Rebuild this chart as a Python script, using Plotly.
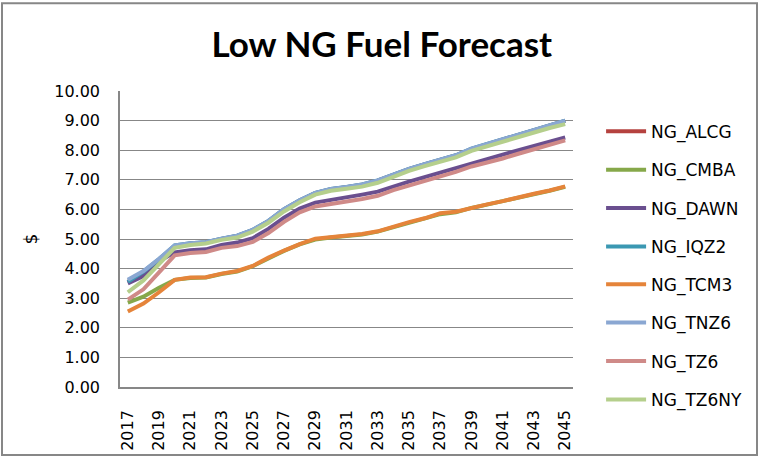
import plotly.graph_objects as go

years = list(range(2017, 2046))

ng_alcg = [3.55, 3.88, 4.30, 4.75, 4.85, 4.88, 5.00, 5.10, 5.30, 5.60, 6.00, 6.30, 6.55, 6.68, 6.75, 6.83, 6.97, 7.17, 7.36, 7.52, 7.68, 7.82, 8.04, 8.20, 8.36, 8.52, 8.67, 8.83, 8.99]
ng_cmba = [2.85, 3.05, 3.35, 3.62, 3.68, 3.70, 3.82, 3.90, 4.08, 4.35, 4.60, 4.82, 4.98, 5.05, 5.10, 5.15, 5.25, 5.40, 5.55, 5.68, 5.84, 5.90, 6.05, 6.16, 6.27, 6.40, 6.52, 6.63, 6.76]
ng_dawn = [3.50, 3.75, 4.25, 4.55, 4.62, 4.65, 4.80, 4.88, 5.03, 5.34, 5.72, 6.03, 6.23, 6.31, 6.40, 6.50, 6.60, 6.78, 6.94, 7.09, 7.25, 7.40, 7.57, 7.70, 7.85, 8.00, 8.16, 8.30, 8.43]
ng_iqz2 = [3.55, 3.90, 4.32, 4.78, 4.86, 4.89, 5.01, 5.11, 5.31, 5.61, 6.01, 6.31, 6.56, 6.69, 6.76, 6.84, 6.98, 7.18, 7.37, 7.53, 7.69, 7.83, 8.05, 8.21, 8.37, 8.53, 8.68, 8.84, 9.00]
ng_tcm3 = [2.55, 2.82, 3.20, 3.62, 3.70, 3.71, 3.83, 3.92, 4.09, 4.37, 4.61, 4.83, 5.01, 5.06, 5.11, 5.17, 5.26, 5.42, 5.57, 5.70, 5.87, 5.92, 6.06, 6.17, 6.28, 6.42, 6.53, 6.64, 6.78]
ng_tnz6 = [3.62, 3.92, 4.33, 4.78, 4.86, 4.89, 5.01, 5.11, 5.31, 5.61, 6.01, 6.31, 6.56, 6.69, 6.76, 6.84, 6.98, 7.18, 7.37, 7.53, 7.69, 7.83, 8.05, 8.21, 8.37, 8.53, 8.68, 8.84, 9.00]
ng_tz6 = [2.95, 3.30, 3.87, 4.45, 4.53, 4.56, 4.70, 4.76, 4.90, 5.20, 5.58, 5.90, 6.10, 6.20, 6.27, 6.35, 6.46, 6.65, 6.80, 6.95, 7.12, 7.27, 7.45, 7.57, 7.72, 7.88, 8.03, 8.18, 8.33]
ng_tz6ny = [3.20, 3.60, 4.15, 4.70, 4.80, 4.85, 4.97, 5.05, 5.25, 5.55, 5.93, 6.24, 6.50, 6.63, 6.70, 6.77, 6.90, 7.10, 7.30, 7.46, 7.62, 7.76, 7.98, 8.14, 8.30, 8.45, 8.60, 8.75, 8.88]

series_names = ["NG_ALCG", "NG_CMBA", "NG_DAWN", "NG_IQZ2", "NG_TCM3", "NG_TNZ6", "NG_TZ6", "NG_TZ6NY"]
series_values = [ng_alcg, ng_cmba, ng_dawn, ng_iqz2, ng_tcm3, ng_tnz6, ng_tz6, ng_tz6ny]
series_colors = ["#B5423F", "#86A84A", "#6A4F8F", "#3B98B2", "#E5843A", "#8AA7D2", "#CF8A88", "#B5CF8C"]

tick_years = list(range(2017, 2046, 2))
y_ticks = [i for i in range(0, 11)]
y_tick_text = [f"{v:.2f}" for v in y_ticks]

fig = go.Figure()
for i, (name, vals, col) in enumerate(zip(series_names, series_values, series_colors)):
    fig.add_trace(go.Scatter(
        x=years, y=vals, mode="lines", name=name,
        line=dict(color=col, width=4),
        legendgroup=name,
        legend="legend" if i < 4 else "legend2",
    ))

legend_style = dict(x=1.062, xanchor="left", yanchor="top",
                    font=dict(family="DejaVu Sans", size=17, color="black"),
                    itemwidth=40, tracegroupgap=13.3, bgcolor="rgba(0,0,0,0)")

fig.update_layout(
    width=759, height=463,
    margin=dict(l=120, r=186, t=91, b=72),
    paper_bgcolor="white", plot_bgcolor="white",
    title=dict(text="<b>Low NG Fuel Forecast</b>", x=0.503, xanchor="center",
               y=1 - 45 / 463, yanchor="middle",
               font=dict(family="Lato", size=35, color="black")),
    showlegend=True,
    legend=dict(y=(391 - 114) / 300, **legend_style),
    legend2=dict(y=(391 - 269) / 300, **legend_style),
    xaxis=dict(range=[2016.5, 2045.5], tickmode="array", tickvals=tick_years,
               ticktext=[str(y) for y in tick_years], tickangle=-90,
               showgrid=False, showline=True, linecolor="#878787", linewidth=1.5,
               ticks="", zeroline=False, ticklabelstandoff=15,
               tickfont=dict(family="DejaVu Sans", size=16, color="black")),
    yaxis=dict(range=[0, 10], tickmode="array", tickvals=y_ticks, ticktext=y_tick_text,
               showgrid=True, gridcolor="#878787", gridwidth=1,
               showline=True, linecolor="#878787", linewidth=1.5,
               ticks="", zeroline=False, ticklabelstandoff=15,
               tickfont=dict(family="DejaVu Sans", size=16, color="black"),
               title=dict(text="$", font=dict(family="DejaVu Sans", size=17, color="black"), standoff=12)),
    shapes=[dict(type="rect", xref="paper", yref="paper",
                 x0=-118 / 453, x1=(757 - 120) / 453, y0=-69 / 300, y1=(391 - 2) / 300,
                 line=dict(color="#878787", width=2), fillcolor="rgba(0,0,0,0)", layer="below")],
)

fig.write_html("out.html", config={"displayModeBar": False},
               post_script="document.body.style.margin='0px';")
